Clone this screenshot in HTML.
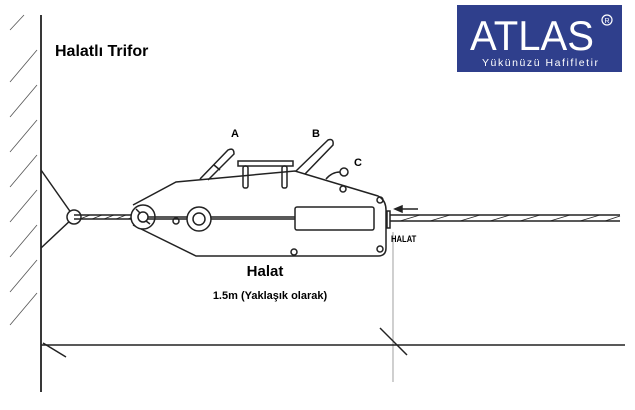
<!DOCTYPE html>
<html><head><meta charset="utf-8"><style>
html,body{margin:0;padding:0;background:#fff;width:635px;height:410px;overflow:hidden}
svg{display:block}
text{font-family:"Liberation Sans",sans-serif}
</style></head><body>
<svg width="635" height="410" viewBox="0 0 635 410" xmlns="http://www.w3.org/2000/svg">
<rect width="635" height="410" fill="#fff"/>
<!-- logo -->
<rect x="457" y="5" width="165" height="67" fill="#2f3f8c"/>
<text x="470" y="50" font-size="42" fill="#fff" font-family="Liberation Serif,serif" textLength="124" lengthAdjust="spacingAndGlyphs">ATLAS</text>
<circle cx="607" cy="20" r="5" fill="none" stroke="#fff" stroke-width="1.2"/>
<text x="607" y="23" text-anchor="middle" font-size="7" fill="#fff">R</text>
<text x="482" y="66" font-size="10.5" fill="#fff" textLength="116" lengthAdjust="spacing">Yükünüzü Hafifletir</text>
<text x="55" y="56" font-size="16" font-weight="bold">Halatlı Trifor</text>
<g stroke="#222" fill="none" stroke-width="1.5">
<!-- wall -->
<line x1="41" y1="15" x2="41" y2="392" stroke-width="1.8"/>
<g stroke-width="0.8" stroke="#555">
<line x1="10" y1="82" x2="37" y2="50"/><line x1="10" y1="117" x2="37" y2="85"/>
<line x1="10" y1="152" x2="37" y2="120"/><line x1="10" y1="187" x2="37" y2="155"/>
<line x1="10" y1="222" x2="37" y2="190"/><line x1="10" y1="257" x2="37" y2="225"/>
<line x1="10" y1="292" x2="37" y2="260"/><line x1="10" y1="325" x2="37" y2="293"/>
<line x1="10" y1="30" x2="24" y2="15"/>
</g>
<!-- anchor -->
<polyline points="41,170 74,217 41,248"/>
<circle cx="74" cy="217" r="7" fill="#fff"/>
<line x1="74" y1="215" x2="143" y2="215"/><line x1="74" y1="219" x2="143" y2="219"/>
<path d="M80 219 L90 215 M92 219 L102 215 M104 219 L114 215 M116 219 L126 215 M128 219 L138 215" stroke-width="0.9"/>
<!-- body -->
<path d="M133,205 L176,182 L295,171 L378,196 Q386,200 386,210 L386,248 Q386,256 378,256 L196,256 L133,225"/>
<circle cx="143" cy="217" r="12" fill="#fff"/>
<circle cx="143" cy="217" r="5"/>
<line x1="136" y1="209" x2="140" y2="213"/><line x1="150" y1="224" x2="146" y2="221"/>
<circle cx="199" cy="219" r="12"/><circle cx="199" cy="219" r="6"/>
<line x1="148" y1="217" x2="187" y2="217"/><line x1="211" y1="217" x2="295" y2="217"/>
<line x1="148" y1="219" x2="187" y2="219"/><line x1="211" y1="219" x2="295" y2="219"/>
<rect x="295" y="207" width="79" height="23" rx="2"/>
<circle cx="176" cy="221" r="3"/><circle cx="343" cy="189" r="3"/>
<circle cx="380" cy="200" r="3"/><circle cx="380" cy="249" r="3"/><circle cx="294" cy="252" r="3"/>
<!-- handle plate -->
<rect x="238" y="161" width="55" height="5"/>
<rect x="243" y="166" width="5" height="22" rx="2"/>
<rect x="282" y="166" width="5" height="22" rx="2"/>
<!-- levers -->
<path d="M200,179 L228,150 Q234,147 234,154 L208,180"/>
<line x1="214" y1="165" x2="220" y2="170"/>
<path d="M296,171 L328,140 Q334,138 333,145 L305,174"/>
<path d="M326,179 Q332,172 340,172"/><circle cx="344" cy="172" r="4"/>
<!-- right rope -->
<rect x="387" y="211" width="3" height="17"/>
<line x1="390" y1="215" x2="620" y2="215"/><line x1="390" y1="221" x2="620" y2="221"/>
<path d="M400 221 L420 215 M430 221 L450 215 M460 221 L480 215 M490 221 L510 215 M520 221 L540 215 M550 221 L570 215 M580 221 L600 215 M605 221 L620 216" stroke-width="0.9"/>
<line x1="398" y1="209" x2="418" y2="209"/>
<path d="M395,209 L402,206 L402,212Z" fill="#222"/>
<line x1="393" y1="232" x2="393" y2="382" stroke-width="0.7" stroke="#777"/>
<!-- dimension -->
<line x1="41" y1="345" x2="625" y2="345"/>
<line x1="43" y1="343" x2="66" y2="357"/>
<line x1="380" y1="328" x2="407" y2="355"/>
</g>
<text x="231" y="137" font-size="11" font-weight="bold">A</text>
<text x="312" y="137" font-size="11" font-weight="bold">B</text>
<text x="354" y="166" font-size="11" font-weight="bold">C</text>
<text x="391" y="242" font-size="9" font-weight="bold" transform="translate(391 242) scale(0.85 1) translate(-391 -242)">HALAT</text>
<text x="265" y="276" font-size="15" font-weight="bold" text-anchor="middle">Halat</text>
<text x="270" y="299" font-size="11" font-weight="bold" text-anchor="middle">1.5m (Yaklaşık olarak)</text>
</svg>
</body></html>
